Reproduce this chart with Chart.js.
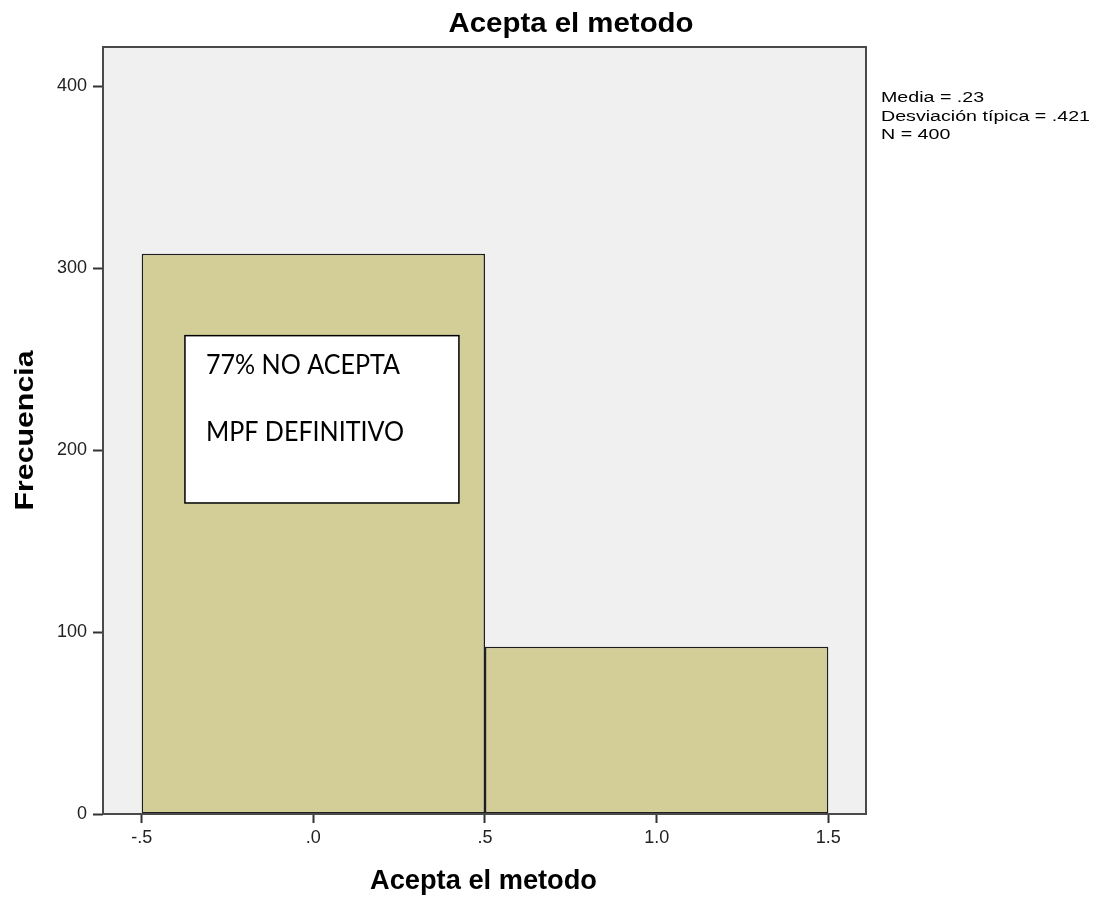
<!DOCTYPE html>
<html>
<head>
<meta charset="utf-8">
<script src="https://cdn.jsdelivr.net/npm/chart.js@4.4.1/dist/chart.umd.min.js"></script>
<style>
  html, body { margin: 0; padding: 0; background: #ffffff; }
  #wrap { width: 1099px; height: 903px; }
</style>
</head>
<body>
<div id="wrap"><canvas id="c" width="1099" height="903"></canvas></div>
<script>
// ---- data ----
const binCenters = [0, 1];
const frequencies = [308, 92];
const xTickValues = [-0.5, 0, 0.5, 1.0, 1.5];
const yTickValues = [0, 100, 200, 300, 400];
const chartTitle = 'Acepta el metodo';
const xAxisTitle = 'Acepta el metodo';
const yAxisTitle = 'Frecuencia';
const statsLines = ['Media = .23', 'Desviación típica = .421', 'N = 400'];
const noteLines = ['77% NO ACEPTA', 'MPF DEFINITIVO'];

function fmtTick(v) {
  let s = Number(v).toFixed(1);
  return s.replace(/^(-?)0\./, '$1.');
}

function drawFit(ctx, text, x, y, font, targetWidth, align, rotate) {
  ctx.save();
  ctx.font = font;
  const w = ctx.measureText(text).width;
  const sx = targetWidth ? targetWidth / w : 1;
  ctx.translate(x, y);
  if (rotate) ctx.rotate(rotate);
  ctx.scale(sx, 1);
  ctx.textAlign = align || 'left';
  ctx.textBaseline = 'alphabetic';
  ctx.fillStyle = '#000';
  ctx.fillText(text, 0, 0);
  ctx.restore();
  return sx;
}

const decor = {
  id: 'decor',
  beforeDraw(chart) {
    const { ctx, chartArea: a } = chart;
    ctx.save();
    ctx.fillStyle = '#f0f0f0';
    ctx.fillRect(a.left, a.top, a.right - a.left, a.bottom - a.top);
    ctx.restore();
  },
  afterDraw(chart) {
    const { ctx, chartArea: a, scales } = chart;
    // plot frame
    ctx.save();
    ctx.strokeStyle = '#4a4a4a';
    ctx.lineWidth = 2;
    ctx.strokeRect(a.left, a.top, a.right - a.left, a.bottom - a.top);
    ctx.restore();

    // titles
    const bold = 'bold 27px "Liberation Sans", Arial, sans-serif';
    drawFit(ctx, chartTitle, 571, 31.5, bold, 245, 'center');
    drawFit(ctx, xAxisTitle, 483.5, 889, bold, 227, 'center');
    drawFit(ctx, yAxisTitle, 33, (a.top + a.bottom) / 2, 'bold 25px "Liberation Sans", Arial, sans-serif', 160, 'center', -Math.PI / 2);

    // statistics
    const statFont = '15.5px "Liberation Sans", Arial, sans-serif';
    ctx.save();
    ctx.font = statFont;
    const sxStats = 209 / ctx.measureText(statsLines[1]).width;
    ctx.restore();
    statsLines.forEach((t, i) => {
      ctx.save();
      ctx.font = statFont;
      ctx.translate(881, 101.7 + i * 18.8);
      ctx.scale(sxStats, 1);
      ctx.fillStyle = '#000';
      ctx.textAlign = 'left';
      ctx.fillText(t, 0, 0);
      ctx.restore();
    });

    // annotation box (in data coordinates)
    const x = scales.x, y = scales.y;
    const bx0 = x.getPixelForValue(-0.374), bx1 = x.getPixelForValue(0.424);
    const by0 = y.getPixelForValue(263), by1 = y.getPixelForValue(171);
    ctx.save();
    ctx.fillStyle = '#ffffff';
    ctx.fillRect(bx0, by0, bx1 - bx0, by1 - by0);
    ctx.strokeStyle = '#000';
    ctx.lineWidth = 1.5;
    ctx.strokeRect(bx0, by0, bx1 - bx0, by1 - by0);
    ctx.restore();
    const noteFont = '27px Lato, "Open Sans", sans-serif';
    ctx.save();
    ctx.font = noteFont;
    const sxNote = 194 / ctx.measureText(noteLines[0]).width;
    ctx.restore();
    noteLines.forEach((t, i) => {
      ctx.save();
      ctx.font = noteFont;
      ctx.translate(bx0 + 21, by0 + 38 + i * 67.5);
      ctx.scale(sxNote, 1);
      ctx.fillStyle = '#000';
      ctx.fillText(t, 0, 0);
      ctx.restore();
    });
  }
};

new Chart(document.getElementById('c'), {
  type: 'bar',
  data: {
    datasets: [{
      data: binCenters.map((c, i) => ({ x: c, y: frequencies[i] })),
      backgroundColor: '#d3ce98',
      borderColor: '#1e1e1e',
      borderWidth: 1.5,
      borderSkipped: false,
      // the bar ruler uses the 0.5 tick spacing; each bin spans two tick steps
      barPercentage: 2.0,
      categoryPercentage: 1.0
    }]
  },
  options: {
    responsive: false,
    animation: false,
    layout: { padding: { left: 0, top: 47, right: 233, bottom: 0 } },
    plugins: { legend: { display: false }, tooltip: { enabled: false }, title: { display: false } },
    scales: {
      x: {
        type: 'linear',
        offset: false,
        min: -0.6127,
        max: 1.6098,
        afterBuildTicks: s => { s.ticks = xTickValues.map(v => ({ value: v })); },
        afterFit: s => { s.height = 89; },
        grid: { offset: false, drawOnChartArea: false, drawTicks: true, tickLength: 9, tickWidth: 2, tickColor: '#333' },
        border: { display: false },
        ticks: {
          callback: v => fmtTick(v),
          font: { family: '"Liberation Sans", Arial, sans-serif', size: 18 },
          color: '#222',
          padding: 4,
          maxRotation: 0,
          autoSkip: false
        }
      },
      y: {
        min: 0,
        max: 421.7,
        afterBuildTicks: s => { s.ticks = yTickValues.map(v => ({ value: v })); },
        afterFit: s => { s.width = 103; },
        grid: { drawOnChartArea: false, drawTicks: true, tickLength: 10, tickWidth: 2, tickColor: '#333' },
        border: { display: false },
        ticks: {
          font: { family: '"Liberation Sans", Arial, sans-serif', size: 18 },
          color: '#222',
          padding: 6,
          autoSkip: false
        }
      }
    }
  },
  plugins: [decor]
});
</script>
</body>
</html>
